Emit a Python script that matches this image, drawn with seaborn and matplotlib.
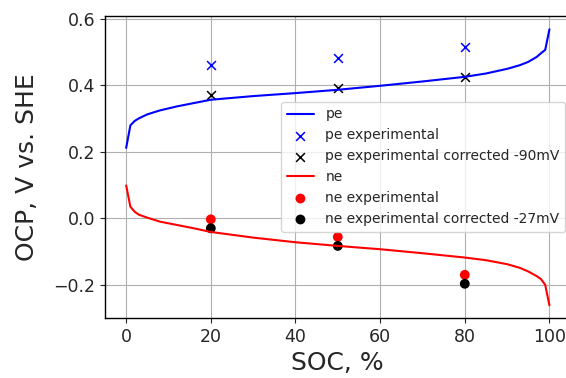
import matplotlib
matplotlib.use("Agg")
import matplotlib.pyplot as plt
import seaborn as sns
import numpy as np

# State of charge grid for the open-circuit potential curves, %
soc = [0, 1, 2, 3, 5, 8, 12, 16, 20, 30, 40, 50, 60, 70, 80, 85, 90, 93, 95, 97, 98, 99, 100]

# Positive electrode OCP, V vs. SHE
ocp_pe = [0.212, 0.280, 0.293, 0.301, 0.313, 0.325, 0.337, 0.347, 0.357, 0.368, 0.377,
          0.387, 0.399, 0.412, 0.426, 0.436, 0.450, 0.461, 0.471, 0.486, 0.497, 0.507, 0.569]

# Negative electrode OCP, V vs. SHE
ocp_ne = [0.099, 0.035, 0.020, 0.011, 0.002, -0.010, -0.020, -0.030, -0.041, -0.058, -0.072,
          -0.083, -0.093, -0.105, -0.118, -0.126, -0.138, -0.149, -0.160, -0.174, -0.183, -0.200, -0.262]

# Measured potentials
soc_exp = [20, 50, 80]
pe_exp = [0.461, 0.482, 0.516]
ne_exp = [-0.003, -0.056, -0.170]

# Reference-electrode offsets, V
pe_offset = 0.090
ne_offset = 0.027
pe_exp_corr = [v - pe_offset for v in pe_exp]
ne_exp_corr = [v - ne_offset for v in ne_exp]

sns.set_style("ticks")
plt.rcParams["font.family"] = ["DejaVu Sans"]

fig = plt.figure(figsize=(5.66, 3.78), dpi=100)
ax = fig.add_axes([105 / 566, 60 / 378, 465.6 / 566, 302.3 / 378])

sns.lineplot(x=soc, y=ocp_pe, color="b", linewidth=1.5, label="pe", ax=ax)
sns.scatterplot(x=soc_exp, y=pe_exp, color="b", marker="x", s=40, linewidth=1.1,
                label="pe experimental", ax=ax)
sns.scatterplot(x=soc_exp, y=pe_exp_corr, color="k", marker="x", s=40, linewidth=1.1,
                label="pe experimental corrected -90mV", ax=ax)
sns.lineplot(x=soc, y=ocp_ne, color="r", linewidth=1.5, label="ne", ax=ax)
sns.scatterplot(x=soc_exp, y=ne_exp, color="r", marker="o", s=50, edgecolor="none",
                label="ne experimental", ax=ax)
sns.scatterplot(x=soc_exp, y=ne_exp_corr, color="k", marker="o", s=50, edgecolor="none",
                label="ne experimental corrected -27mV", ax=ax)

ax.set_xlim(-5, 105)
ax.set_ylim(-0.3, 0.61)
ax.set_xticks([0, 20, 40, 60, 80, 100])
ax.set_yticks([-0.2, 0.0, 0.2, 0.4, 0.6])
ax.grid(True, color="#b0b0b0", linewidth=0.8)
for side in ax.spines.values():
    side.set_linewidth(1.0)
    side.set_color("black")
ax.spines["right"].set_visible(False)
ax.tick_params(labelsize=12.5, length=3.5, width=0.8)
ax.set_xlabel("SOC, %", fontsize=18)
ax.set_ylabel("OCP, V vs. SHE", fontsize=18, labelpad=10)

ax.legend(loc="upper left", bbox_to_anchor=(0.378, 0.715), fontsize=10,
          frameon=True, framealpha=0.8, borderaxespad=0.0)

fig.savefig("out.png", dpi=100)
